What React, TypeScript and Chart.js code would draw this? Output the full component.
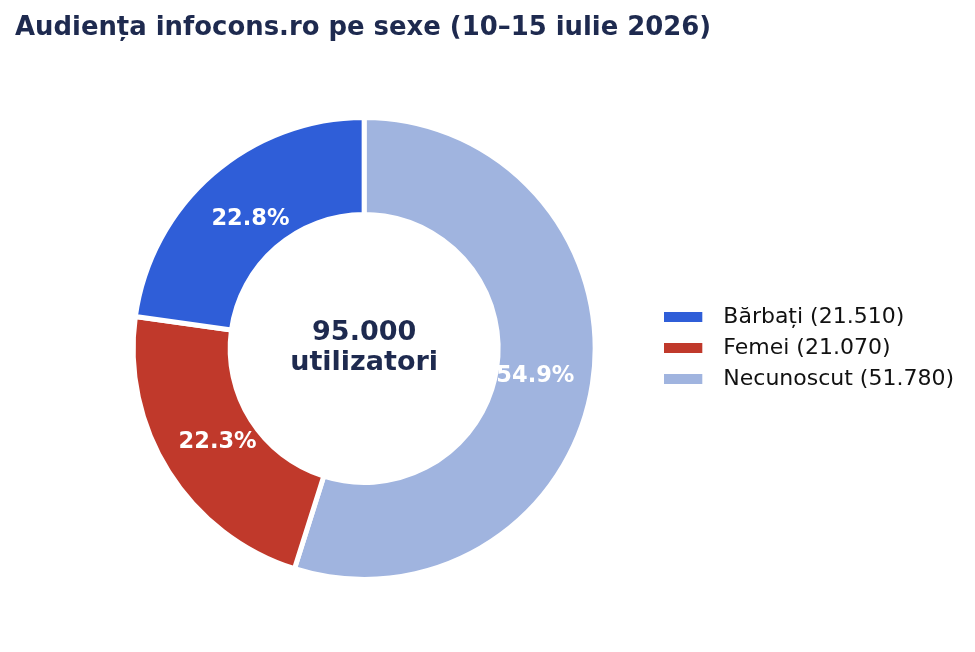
import React, { useEffect, useRef } from 'react';
import { Chart, registerables } from 'chart.js';

Chart.register(...registerables);

// ---- data ----
const categories = ['Bărbați', 'Femei', 'Necunoscut'];
const users = [21510, 21070, 51780];
const colors = ['#2f5ed8', '#c0392b', '#a0b4df'];
const totalUsers = 95000;
const centerUnit = 'utilizatori';
const titleText = 'Audiența infocons.ro pe sexe (10–15 iulie 2026)';
// slices are laid out counter-clockwise from the top in the reference,
// so they are fed to Chart.js (clockwise) in reverse order
const drawOrder = [2, 1, 0];

const FONT = '"DejaVu Sans", "Liberation Sans", sans-serif';
const NAVY = '#1e2a4f';

const fmt = (v: number) => String(v).replace(/\B(?=(\d{3})+(?!\d))/g, '.');

function swatch(color: string): HTMLCanvasElement {
  const c = document.createElement('canvas');
  c.width = 48;
  c.height = 10;
  const g = c.getContext('2d')!;
  g.fillStyle = color;
  g.fillRect(0, 0, 38, 10);
  return c;
}

const titleShift = {
  id: 'titleShift',
  afterLayout(chart: any) {
    if (chart.titleBlock) chart.titleBlock.left = 15;
  },
};

const overlay = {
  id: 'overlay',
  afterDatasetsDraw(chart: any) {
    const { ctx } = chart;
    const meta = chart.getDatasetMeta(0);
    const vals = chart.data.datasets[0].data as number[];
    const sum = vals.reduce((a, b) => a + b, 0);
    ctx.save();
    ctx.textAlign = 'center';
    ctx.textBaseline = 'middle';
    ctx.fillStyle = '#ffffff';
    ctx.font = `bold 22.5px ${FONT}`;
    let cx = 0;
    let cy = 0;
    meta.data.forEach((el: any, i: number) => {
      const p = el.getProps(['x', 'y', 'startAngle', 'endAngle', 'outerRadius'], true);
      cx = p.x;
      cy = p.y;
      const a = (p.startAngle + p.endAngle) / 2;
      const r = p.outerRadius * 0.75;
      ctx.fillText(((vals[i] / sum) * 100).toFixed(1) + '%', p.x + r * Math.cos(a), p.y + r * Math.sin(a) + 1.5);
    });
    ctx.fillStyle = NAVY;
    ctx.font = `bold 27px ${FONT}`;
    ctx.textBaseline = 'alphabetic';
    ctx.fillText(fmt(totalUsers), cx, cy - 8);
    ctx.fillText(centerUnit, cx, cy + 22);
    ctx.restore();
  },
};

export default function App() {
  const ref = useRef<HTMLCanvasElement | null>(null);

  useEffect(() => {
    if (!ref.current) return;
    Chart.defaults.font.family = FONT;
    const chart = new Chart(ref.current, {
      type: 'doughnut',
      data: {
        labels: drawOrder.map((i) => categories[i]),
        datasets: [
          {
            data: drawOrder.map((i) => users[i]),
            backgroundColor: drawOrder.map((i) => colors[i]),
            borderColor: '#ffffff',
            borderWidth: 5,
            hoverBorderWidth: 5,
            hoverOffset: 0,
          },
        ],
      },
      options: {
        responsive: false,
        animation: false,
        events: [],
        cutout: '58%',
        layout: { padding: { left: 73, right: 11, top: 0, bottom: 70 } },
        plugins: {
          tooltip: { enabled: false },
          title: {
            display: true,
            text: titleText,
            align: 'start',
            color: NAVY,
            font: { size: 25.9, weight: 'bold', family: FONT, lineHeight: 1.2 },
            padding: { top: 12.5, bottom: 71.4 },
          },
          legend: {
            display: true,
            position: 'right',
            fullSize: false,
            labels: {
              usePointStyle: true,
              pointStyleWidth: 48,
              boxHeight: 10,
              padding: 9,
              color: '#111111',
              font: { size: 22, family: FONT },
              generateLabels: () =>
                categories.map((c, i) => ({
                  text: `${c} (${fmt(users[i])})`,
                  fillStyle: colors[i],
                  strokeStyle: colors[i],
                  lineWidth: 0,
                  hidden: false,
                  index: drawOrder.indexOf(i),
                  pointStyle: swatch(colors[i]) as any,
                  fontColor: '#111111',
                })),
            },
          },
        },
      },
      plugins: [titleShift, overlay],
    });
    return () => chart.destroy();
  }, []);

  return (
    <div style={{ position: 'absolute', left: 0, top: 0, width: 975, height: 652, background: '#ffffff' }}>
      <canvas ref={ref} width={975} height={652} />
    </div>
  );
}
